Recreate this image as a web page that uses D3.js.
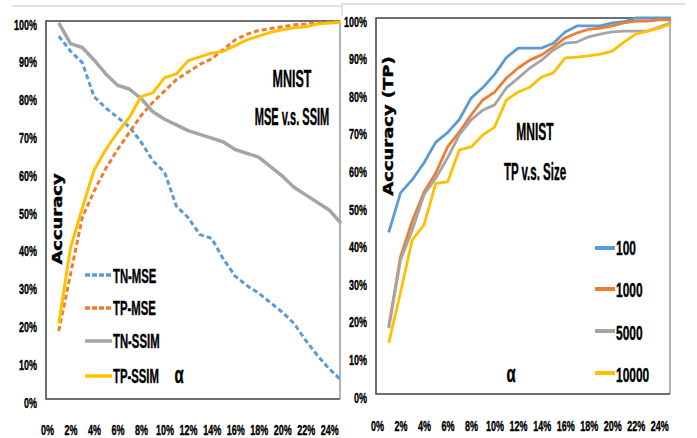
<!DOCTYPE html>
<html>
<head>
<meta charset="utf-8">
<script src="https://cdn.jsdelivr.net/npm/d3@7"></script>
<style>
  body { margin: 0; background: #fff; }
  svg { display: block; }
</style>
</head>
<body>
<div id="vis"></div>
<script>
// alpha (x) values and the series, in %
const alpha = [1, 2, 3, 4, 5, 6, 7, 8, 9, 10, 11, 12, 13, 14, 15, 16, 17, 18, 19, 20, 21, 22, 23, 24, 25];

const tnMse  = [96, 92, 89, 80, 77, 74.5, 72, 68, 63, 60, 51, 48, 43.5, 42.5, 37, 32.5, 30, 28, 25.5, 23, 20, 15.5, 11.5, 8, 5];
const tpMse  = [18, 33, 48, 55, 61, 66, 70.5, 75, 78.5, 81.5, 84.5, 86.5, 88.5, 90, 92.5, 95, 96.5, 97.5, 98, 98.5, 99, 99.2, 99.5, 99.7, 99.8];
const tnSsim = [99.5, 94, 93, 89.7, 86, 83, 82, 79.5, 76, 74, 72.5, 71, 70, 69, 68, 66, 65, 64, 61.5, 59, 56, 54, 52, 50, 46.5];
const tpSsim = [20, 40, 50.5, 60.5, 66, 70.5, 74.5, 80, 81, 85, 86, 89.5, 90.5, 91.5, 92, 93.5, 95, 96, 97, 97.7, 98.2, 98.5, 99.2, 99.5, 99.7];

const s100   = [43, 53.5, 57, 61.5, 67, 69.5, 73, 78.7, 81.5, 85, 89.5, 92, 92, 92, 93.3, 96.3, 97.9, 97.9, 97.9, 98.7, 99, 100, 100, 100, 100];
const s1000  = [18, 36.5, 46, 53.7, 58.8, 65.7, 69.7, 74.2, 78.2, 80.3, 84, 86.7, 88.8, 90.2, 92.3, 94.7, 96, 97, 97.3, 97.9, 98.7, 99.2, 99.2, 99.5, 99.5];
const s5000  = [17.5, 35.6, 43.6, 53, 57.4, 62.8, 68.9, 72.9, 75.5, 76.9, 81.4, 84, 86.7, 88.8, 91.5, 93.3, 93.6, 95, 95.7, 96.3, 96.5, 96.5, 96.5, 97.6, 98.7];
const s10000 = [13.6, 27, 41, 45, 56, 56.4, 64.9, 65.7, 68.9, 71, 78.2, 80.3, 81.6, 84.3, 85.4, 89.4, 89.6, 89.9, 90.4, 91.2, 93.6, 95.7, 96.5, 97.3, 98.4];

const xTicks = [0, 2, 4, 6, 8, 10, 12, 14, 16, 18, 20, 22, 24];
const yTicks = [0, 10, 20, 30, 40, 50, 60, 70, 80, 90, 100];

const leftSeries = [
  { name: "TN-MSE", values: tnMse, color: "#5B9BD5", dash: "5,3", width: 3 },
  { name: "TP-MSE", values: tpMse, color: "#ED7D31", dash: "5,3", width: 3 },
  { name: "TN-SSIM", values: tnSsim, color: "#A5A5A5", dash: null, width: 3.5 },
  { name: "TP-SSIM", values: tpSsim, color: "#FFC000", dash: null, width: 3 }
];
const rightSeries = [
  { name: "100", values: s100, color: "#5B9BD5" },
  { name: "1000", values: s1000, color: "#ED7D31" },
  { name: "5000", values: s5000, color: "#A5A5A5" },
  { name: "10000", values: s10000, color: "#FFC000" }
];

const WIDTH = 697;
const HEIGHT = 438;
const FONT = "'Liberation Sans', Arial, sans-serif";

const svg = d3.select("#vis").append("svg")
  .attr("width", WIDTH).attr("height", HEIGHT);

// squeezed bold text, like the original
function label(txt, x, y, o) {
  const t = svg.append("text")
    .attr("transform", `translate(${x},${y})` + (o.rotate ? ` rotate(${o.rotate})` : "") + ` scale(${o.sx},1)`)
    .attr("text-anchor", o.anchor || "start")
    .attr("font-family", o.family || FONT)
    .attr("font-weight", "bold")
    .attr("font-size", o.size)
    .attr("fill", "#000")
    .attr("stroke", "#000").attr("stroke-width", 0.4)
    .text(txt);
  return t;
}

function panel(cfg) {
  const x = d3.scaleLinear().domain([0, 25]).range([cfg.left + 1, cfg.right + 1]);
  const y = d3.scaleLinear().domain([0, 100]).range([cfg.bottom, cfg.top]);

  // outer chart frame (top line only visible)
  svg.append("line")
    .attr("x1", cfg.frameX1).attr("x2", cfg.frameX2)
    .attr("y1", cfg.frameY).attr("y2", cfg.frameY)
    .attr("stroke", "#d9d9d9").attr("stroke-width", 1.5);

  // plot frame
  svg.append("line").attr("x1", cfg.right).attr("x2", cfg.right)
    .attr("y1", cfg.top).attr("y2", cfg.bottom)
    .attr("stroke", "#9a9a9a").attr("stroke-width", 1.5);
  svg.append("path")
    .attr("d", `M${cfg.right},${cfg.top}H${cfg.left}V${cfg.bottom}H${cfg.right}`)
    .attr("fill", "none").attr("stroke", "#404040").attr("stroke-width", 1.5);

  // y axis
  const gy = svg.append("g").attr("transform", `translate(${cfg.yLabelX},0)`)
    .call(d3.axisLeft(y).tickValues(yTicks).tickSize(0).tickFormat(d => d + "%"));
  gy.select(".domain").remove();
  gy.selectAll("text")
    .attr("x", 0).attr("dy", 0)
    .attr("transform", "translate(0,8) scale(0.6,1)")
    .attr("font-family", FONT).attr("font-weight", "bold").attr("font-size", 15)
    .attr("fill", "#000").attr("stroke", "#000").attr("stroke-width", 0.4)
    .attr("text-anchor", "end");

  // x axis
  const gx = svg.append("g").attr("transform", `translate(0,${cfg.bottom + cfg.xLabelGap})`)
    .call(d3.axisBottom(x).tickValues(xTicks).tickSize(0).tickFormat(d => d + "%"));
  gx.select(".domain").remove();
  gx.selectAll("text")
    .attr("y", 0).attr("dy", 0)
    .attr("transform", "scale(0.6,1)")
    .attr("font-family", FONT).attr("font-weight", "bold").attr("font-size", 15)
    .attr("fill", "#000").attr("stroke", "#000").attr("stroke-width", 0.4)
    .attr("text-anchor", "middle");

  const line = d3.line()
    .x((d, i) => x(alpha[i]))
    .y(d => y(d));

  cfg.series.forEach(s => {
    svg.append("path")
      .datum(s.values)
      .attr("d", line)
      .attr("fill", "none")
      .attr("stroke", s.color)
      .attr("stroke-width", s.width || 2.8)
      .attr("stroke-dasharray", s.dash || null)
      .attr("stroke-linejoin", "round");
  });
  return { x, y };
}

// ---- left: MSE v.s. SSIM
panel({
  left: 46, right: 340, top: 21, bottom: 399,
  yLabelX: 37, xLabelGap: 36,
  frameX1: 12, frameX2: 341, frameY: 6,
  series: leftSeries
});

label("MNIST", 292, 87, { size: 24, sx: 0.52, anchor: "middle" });
label("MSE v.s. SSIM", 292, 125, { size: 23, sx: 0.48, anchor: "middle" });
label("Accuracy", 62, 219, { size: 13.5, sx: 1.33, anchor: "middle", rotate: -90, family: "'DejaVu Sans', sans-serif" });

const leftLegY = [275, 308, 341, 376];
const leftLegBase = [283, 315, 348, 383];
leftSeries.forEach((s, i) => {
  svg.append("line")
    .attr("x1", 85).attr("x2", 112)
    .attr("y1", leftLegY[i]).attr("y2", leftLegY[i])
    .attr("stroke", s.color).attr("stroke-width", 3.5)
    .attr("stroke-dasharray", s.dash ? "5,2" : null);
  label(s.name, 113, leftLegBase[i], { size: 21, sx: 0.54 });
});
label("α", 179, 383, { size: 23, sx: 0.65, anchor: "middle" });

// ---- right: TP v.s. Size
panel({
  left: 376, right: 670, top: 18, bottom: 394,
  yLabelX: 367, xLabelGap: 37,
  frameX1: 341, frameX2: 685, frameY: 4,
  series: rightSeries
});
svg.append("line").attr("x1", 342).attr("x2", 342).attr("y1", 4).attr("y2", 16)
  .attr("stroke", "#d9d9d9").attr("stroke-width", 1.5);

label("MNIST", 535, 140, { size: 24, sx: 0.5, anchor: "middle" });
label("TP v.s. Size", 535, 180, { size: 23, sx: 0.5, anchor: "middle" });
label("Accuracy (TP)", 393, 126, { size: 13.5, sx: 1.33, anchor: "middle", rotate: -90, family: "'DejaVu Sans', sans-serif" });

const rightLegY = [248, 289, 331, 373];
const rightLegBase = [255, 297, 340, 382];
rightSeries.forEach((s, i) => {
  svg.append("line")
    .attr("x1", 595).attr("x2", 615)
    .attr("y1", rightLegY[i]).attr("y2", rightLegY[i])
    .attr("stroke", s.color).attr("stroke-width", 4);
  label(s.name, 616, rightLegBase[i], { size: 21, sx: 0.57 });
});
label("α", 511, 382, { size: 23, sx: 0.65, anchor: "middle" });
</script>
</body>
</html>
